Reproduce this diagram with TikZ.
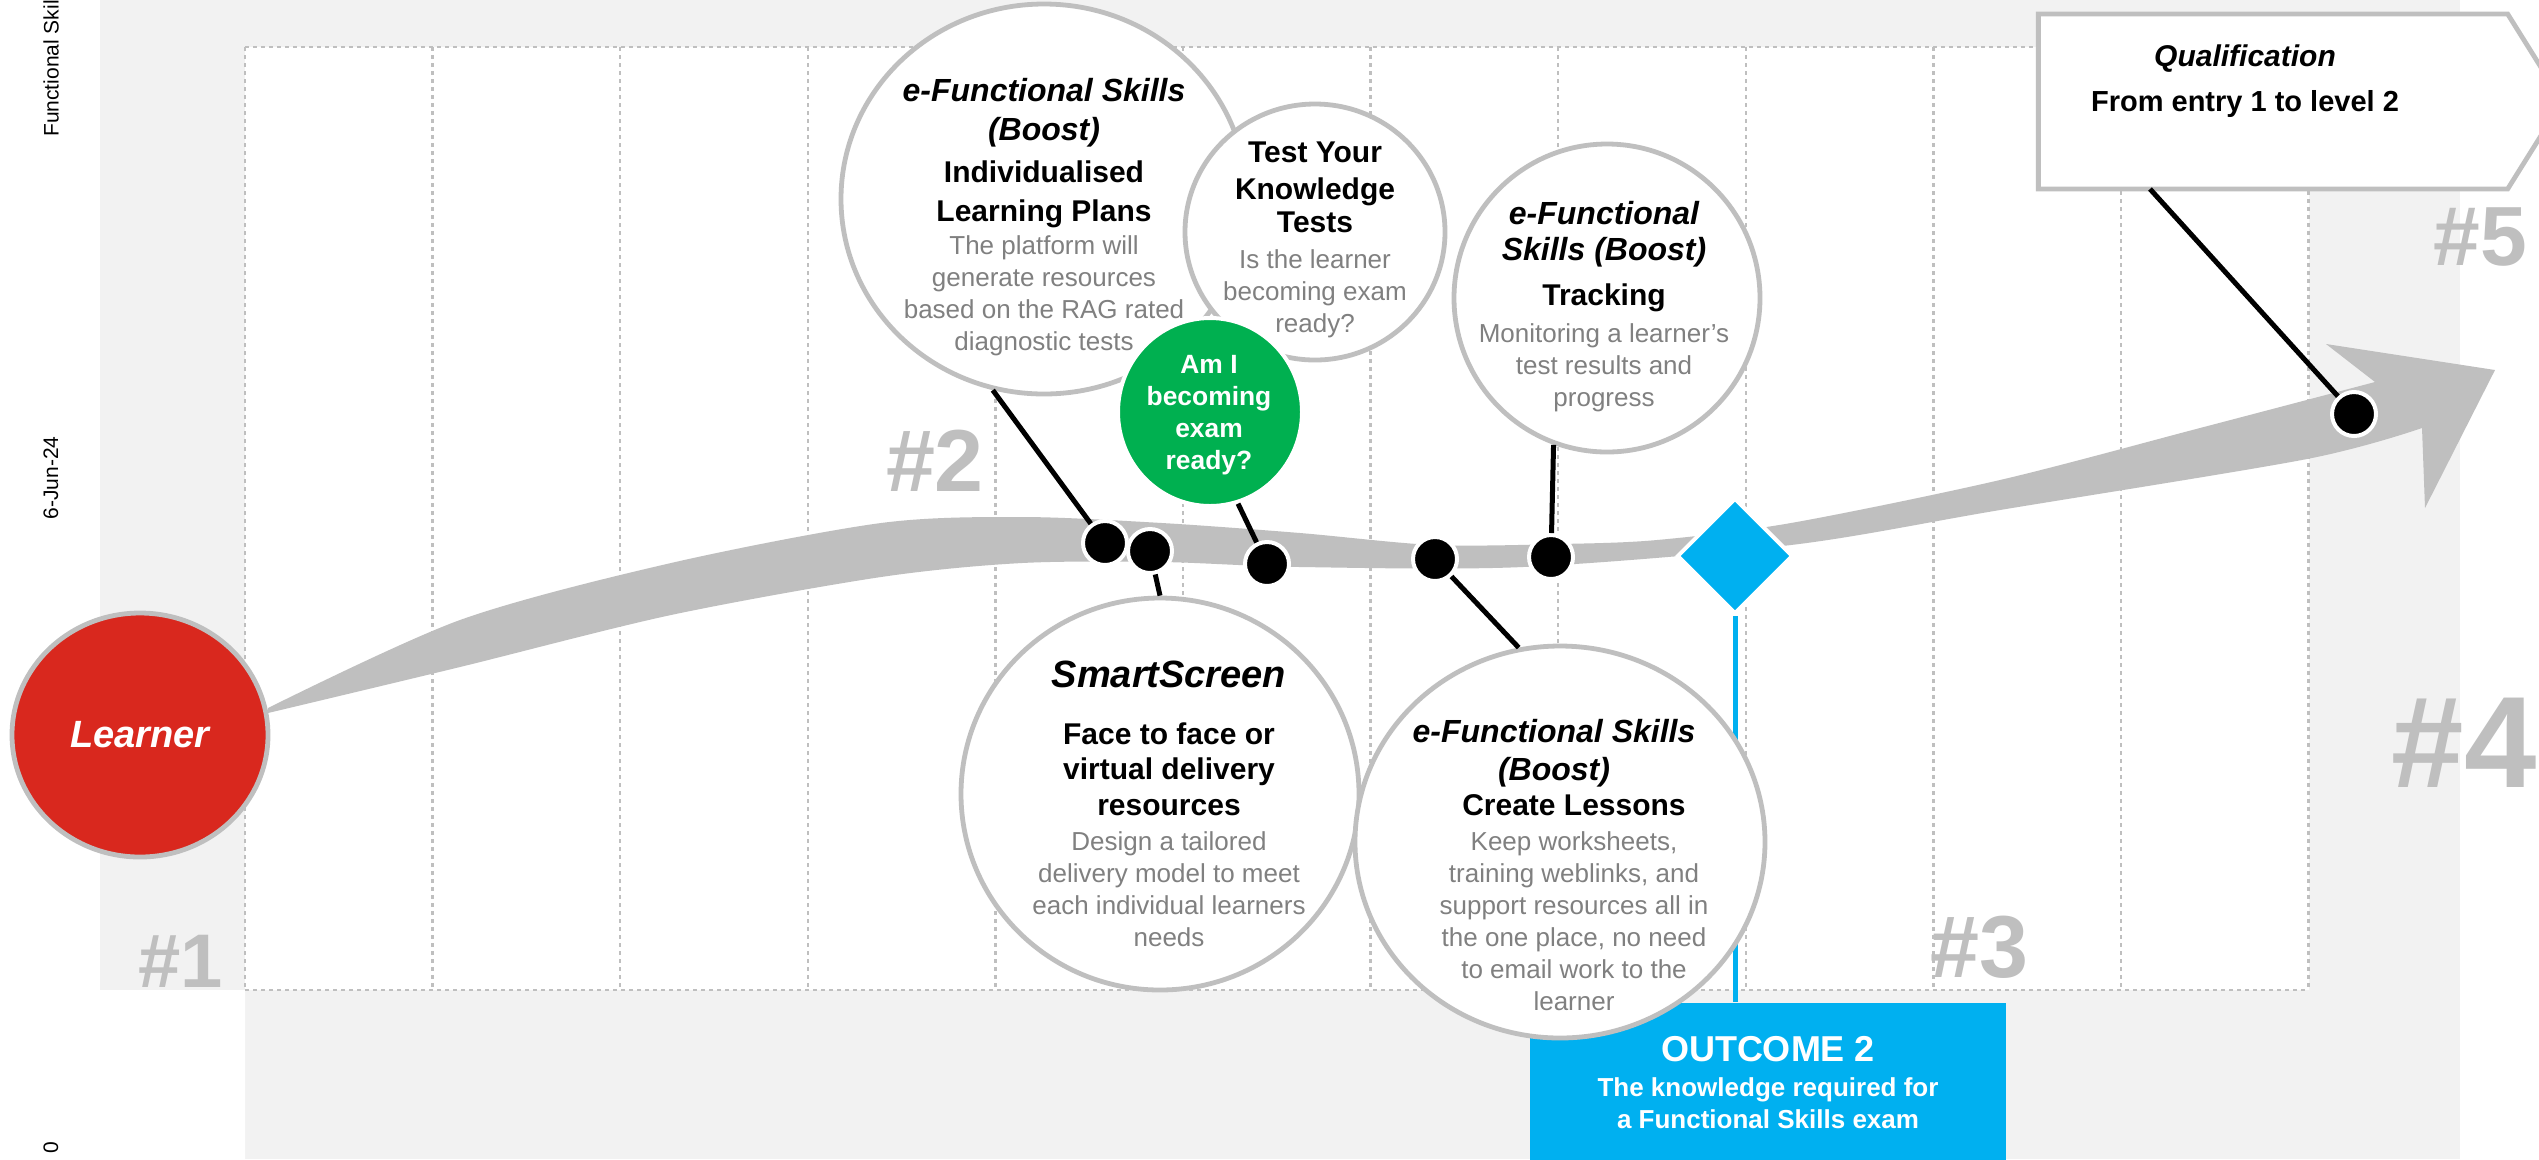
\documentclass[tikz,border=0pt]{standalone}
\usepackage{fontspec}
\setmainfont{Liberation Sans}
\usetikzlibrary{shapes.geometric,shapes.symbols}
\definecolor{bggray}{RGB}{242,242,242}
\definecolor{rimgray}{RGB}{191,191,191}
\definecolor{txtgray}{RGB}{128,128,128}
\definecolor{lrnred}{RGB}{217,40,30}
\definecolor{okgreen}{RGB}{0,176,80}
\definecolor{skyblue}{RGB}{0,176,240}
\newcommand{\bubtitle}{\fontsize{8}{8}\selectfont\bfseries\itshape\color{black}}
\newcommand{\bubhead}{\fontsize{7.5}{8}\selectfont\bfseries\color{black}}
\tikzstyle{bubble}=[shape=ellipse,draw=rimgray,line width=1.2pt,fill=white,inner sep=0pt]
\tikzstyle{blackdot}=[shape=circle,draw=white,line width=1pt,fill=black,minimum size=11pt,inner sep=0pt]
\tikzstyle{conn}=[line width=1.25pt,black]
\tikzstyle{gridline}=[rimgray,line width=0.6pt,dash pattern=on 1pt off 1pt]
\tikzstyle{hashno}=[text=rimgray,inner sep=0pt]
\tikzstyle{btext}=[align=center,inner sep=0pt,anchor=north,text=txtgray,font=\fontsize{6.5}{8}\selectfont]
\tikzstyle{sidetext}=[rotate=90,inner sep=0pt,font=\fontsize{5.25}{6}\selectfont]

\begin{document}
\begin{tikzpicture}[x=0.25pt,y=-0.25pt]
	\useasboundingbox (0,0) rectangle (2539,1159);
	\clip (0,0) rectangle (2539,1159);
	\fill[bggray] (100,0) rectangle (2460,1159);
	\fill[white] (245,47) rectangle (2309,990) (100,990) rectangle (245,1159);
	\foreach \i in {0,...,11}
		\draw[gridline] ({245+187.6*\i},47) -- ({245+187.6*\i},990);
	\draw[gridline] (245,47) -- (2309,47) (245,990) -- (2309,990);
	\node[sidetext] (s1) at (51,68.5) {Functional Skil};
	\node[sidetext] (s2) at (51,478) {6-Jun-24};
	\node[sidetext] (s3) at (51,1148) {0};
	\node[hashno,font=\fontsize{19}{19}\selectfont\bfseries] (h1) at (181,961) {\#1};
	\node[hashno,font=\fontsize{22}{22}\selectfont\bfseries] (h2) at (935,461) {\#2};
	\node[hashno,font=\fontsize{22}{22}\selectfont\bfseries] (h3) at (1979,947) {\#3};
	\node[hashno,font=\fontsize{32.5}{32.5}\selectfont\bfseries,anchor=west] (h4) at (2391,743) {\#4};
	\node[hashno,font=\fontsize{21}{21}\selectfont\bfseries] (h5) at (2480,237) {\#5};
	\fill[rimgray] plot[smooth] coordinates {(268,708) (460,620) (671,563) (881,523) (1022,517) (1162,523) (1300,533) (1434,545) (1560,544) (1657,540) (1791,523) (2000,480) (2200,428) (2375,382)}
		-- (2326,344) -- (2495,370) -- (2425,508)
		-- plot[smooth] coordinates {(2422,428) (2307,459) (2000,510) (1791,545) (1523,567) (1300,567) (1162,562) (1022,563) (881,577) (671,615) (460,667) (268,713)} -- cycle;
	\node[bubble,fill=lrnred,minimum width=64pt,minimum height=61pt,text=white,font=\fontsize{9.5}{9.5}\selectfont\bfseries\itshape] (l) at (140,735) {Learner};
	\node[fill=skyblue,minimum width=119pt,minimum height=39.75pt,inner sep=0pt,text=white,align=center,font=\fontsize{6.5}{8}\selectfont\bfseries] (o) at (1768,1082.5) {{\fontsize{9}{9}\selectfont OUTCOME 2}\\[0.75pt] The knowledge required for\\ a Functional Skills exam};
	\node[diamond,aspect=1,fill=skyblue,draw=white,line width=1pt,minimum size=29pt,inner sep=0pt] (dm) at (1735,556) {};
	\draw[skyblue,line width=1.25pt] (dm.south) -- (dm.south |- o.north);
	\node[bubble,minimum width=101.5pt,minimum height=97.5pt] (b1) at (1044,199) {};
	\node[btext] (t1) at (1044,77) {{\bubtitle e-Functional Skills}\\[1.75pt] {\bubtitle (Boost)}\\[2.5pt] {\bubhead Individualised}\\[1.75pt] {\bubhead Learning Plans}\\[0.25pt] The platform will\\ generate resources\\ based on the RAG rated\\ diagnostic tests};
	\node[bubble,minimum width=65pt,minimum height=64pt] (b2) at (1315,232) {};
	\node[btext] (t2) at (1315,141) {{\bubhead Test Your}\\[1.25pt] {\bubhead Knowledge}\\[0.25pt] {\bubhead Tests}\\[1pt] Is the learner\\ becoming exam\\ ready?};
	\node[bubble,fill=okgreen,draw=white,line width=1pt,minimum width=46pt,minimum height=47pt] (b3) at (1210,412) {};
	\node[btext,text=white,font=\fontsize{6.6}{8}\selectfont\bfseries] (t3) at (1209,355) {Am I\\ becoming\\ exam\\ ready?};
	\node[bubble,minimum width=76.5pt,minimum height=77pt] (b4) at (1607,298) {};
	\node[btext] (t4) at (1604,200) {{\bubtitle e-Functional}\\[1pt] {\bubtitle Skills (Boost)}\\[3.25pt] {\bubhead Tracking}\\[1.25pt] Monitoring a learner's\\ test results and\\ progress};
	\node[bubble,minimum width=99.5pt,minimum height=98pt] (b5) at (1160,794) {};
	\node[btext] (t5) at (1169,660) {{\fontsize{9.5}{9.5}\selectfont\bfseries\itshape\color{black} SmartScreen}\\[6.25pt] {\bubhead Face to face or}\\[0.75pt] {\bubhead virtual delivery}\\[1pt] {\bubhead resources}\\[0.75pt] Design a tailored\\ delivery model to meet\\ each individual learners\\ needs};
	\node[bubble,minimum width=102.5pt,minimum height=98pt] (b6) at (1560,842) {};
	\node[btext] (t6) at (1574,718) {{\bubtitle e-Functional Skills\hspace*{10pt}}\\[1.5pt] {\bubtitle (Boost)\hspace*{10pt}}\\[0.75pt] {\bubhead Create Lessons}\\[0.75pt] Keep worksheets,\\ training weblinks, and\\ support resources all in\\ the one place, no need\\ to email work to the\\ learner};
	\node[signal,signal to=east,signal pointer angle=116,draw=rimgray,line width=1.2pt,fill=white,minimum width=131pt,minimum height=43.75pt,inner sep=0pt] (q) at (2273,101.5) {};
	\node[btext,text=black] (t7) at (2245,43.5) {{\fontsize{7.5}{8}\selectfont\bfseries\itshape Qualification}\\[3.4pt] {\fontsize{7.25}{8}\selectfont\bfseries From entry 1 to level 2}};
	\coordinate (qf) at (2150,189);
	\node[blackdot] (d1) at (1105,543) {};
	\node[blackdot] (d2) at (1150,551) {};
	\node[blackdot] (d3) at (1267,564) {};
	\node[blackdot] (d4) at (1435,559) {};
	\node[blackdot] (d5) at (1551,557) {};
	\node[blackdot] (d6) at (2354,414) {};
	\draw[conn]
		(d1) -- (b1.255)
		(d2) -- (b5.north)
		(d3) -- (b3.287)
		(d4) -- (b6.102)
		(d5) -- (b4.250)
		(d6) -- (qf);
\end{tikzpicture}
\end{document}
